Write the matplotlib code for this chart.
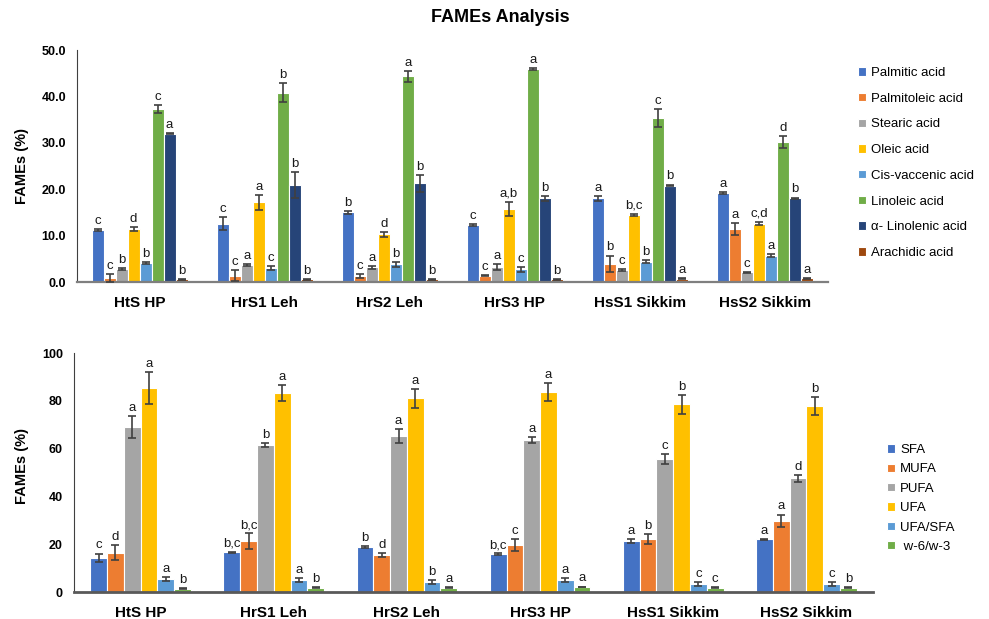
import numpy as np
import matplotlib
matplotlib.use('Agg')
import matplotlib.pyplot as plt

plt.rcParams['font.family'] = ['Liberation Sans', 'DejaVu Sans']

## sample groups
samples = ['HtS HP', 'HrS1 Leh', 'HrS2 Leh', 'HrS3 HP', 'HsS1 Sikkim', 'HsS2 Sikkim']

## top chart - individual fatty acids (%), one list per acid, values per sample
acids = ['Palmitic acid', 'Palmitoleic acid', 'Stearic acid', 'Oleic acid',
         'Cis-vaccenic acid', 'Linoleic acid', 'α- Linolenic acid', 'Arachidic acid']
palmitic = [11.2, 12.6, 15.0, 12.3, 18.0, 19.1]
palmitoleic = [0.9, 1.4, 1.3, 1.4, 3.9, 11.4]
stearic = [2.8, 3.7, 3.2, 3.2, 2.6, 2.1]
oleic = [11.4, 17.2, 10.3, 15.8, 14.5, 12.6]
cis_vaccenic = [4.1, 3.0, 3.8, 2.7, 4.4, 5.7]
linoleic = [37.3, 40.8, 44.3, 46.0, 35.3, 30.2]
linolenic = [32.0, 21.0, 21.3, 18.0, 20.8, 18.0]
arachidic = [0.6, 0.6, 0.6, 0.6, 0.7, 0.8]

palmitic_err = [0.3, 1.4, 0.3, 0.2, 0.5, 0.2]
palmitoleic_err = [0.9, 1.1, 0.5, 0.2, 1.8, 1.3]
stearic_err = [0.2, 0.2, 0.3, 0.6, 0.2, 0.1]
oleic_err = [0.4, 1.6, 0.5, 1.5, 0.2, 0.4]
cis_vaccenic_err = [0.3, 0.5, 0.5, 0.6, 0.3, 0.4]
linoleic_err = [0.9, 2.1, 1.2, 0.2, 1.9, 1.3]
linolenic_err = [0.2, 2.8, 1.8, 0.5, 0.2, 0.2]
arachidic_err = [0.1, 0.1, 0.1, 0.1, 0.1, 0.1]

palmitic_sig = ['c', 'c', 'b', 'c', 'a', 'a']
palmitoleic_sig = ['c', 'c', 'c', 'c', 'b', 'a']
stearic_sig = ['b', 'a', 'a', 'a', 'c', 'c']
oleic_sig = ['d', 'a', 'd', 'a,b', 'b,c', 'c,d']
cis_vaccenic_sig = ['b', 'c', 'b', 'c', 'b', 'a']
linoleic_sig = ['c', 'b', 'a', 'a', 'c', 'd']
linolenic_sig = ['a', 'b', 'b', 'b', 'b', 'b']
arachidic_sig = ['b', 'b', 'b', 'b', 'a', 'a']

## bottom chart - fatty acid classes
classes = ['SFA', 'MUFA', 'PUFA', 'UFA', 'UFA/SFA', ' w-6/w-3']
sfa = [14.4, 16.6, 18.7, 15.9, 21.3, 22.0]
mufa = [16.5, 21.3, 15.4, 19.6, 22.2, 29.8]
pufa = [69.0, 61.5, 65.2, 63.5, 55.7, 47.6]
ufa = [85.3, 83.2, 81.1, 83.8, 78.5, 77.9]
ufa_sfa = [5.3, 4.9, 4.2, 4.9, 3.2, 3.2]
w6_w3 = [1.3, 1.7, 1.7, 2.1, 1.7, 1.7]

sfa_err = [1.7, 0.2, 0.4, 0.3, 0.7, 0.2]
mufa_err = [3.0, 3.3, 0.9, 2.5, 2.1, 2.6]
pufa_err = [4.7, 0.7, 3.0, 1.2, 2.1, 1.4]
ufa_err = [6.6, 3.4, 4.0, 3.7, 4.1, 3.8]
ufa_sfa_err = [0.9, 0.8, 0.8, 0.8, 0.8, 0.8]
w6_w3_err = [0.2, 0.2, 0.2, 0.2, 0.2, 0.2]

sfa_sig = ['c', 'b,c', 'b', 'b,c', 'a', 'a']
mufa_sig = ['d', 'b,c', 'd', 'c', 'b', 'a']
pufa_sig = ['a', 'b', 'a', 'a', 'c', 'd']
ufa_sig = ['a', 'a', 'a', 'a', 'b', 'b']
ufa_sfa_sig = ['a', 'a', 'b', 'a', 'c', 'c']
w6_w3_sig = ['b', 'b', 'a', 'a', 'c', 'b']

top_vals = [palmitic, palmitoleic, stearic, oleic, cis_vaccenic, linoleic, linolenic, arachidic]
top_errs = [palmitic_err, palmitoleic_err, stearic_err, oleic_err, cis_vaccenic_err,
            linoleic_err, linolenic_err, arachidic_err]
top_sigs = [palmitic_sig, palmitoleic_sig, stearic_sig, oleic_sig, cis_vaccenic_sig,
            linoleic_sig, linolenic_sig, arachidic_sig]
top_colors = ['#4472C4', '#ED7D31', '#A5A5A5', '#FFC000', '#5B9BD5', '#70AD47', '#264478', '#9E480E']

bot_vals = [sfa, mufa, pufa, ufa, ufa_sfa, w6_w3]
bot_errs = [sfa_err, mufa_err, pufa_err, ufa_err, ufa_sfa_err, w6_w3_err]
bot_sigs = [sfa_sig, mufa_sig, pufa_sig, ufa_sig, ufa_sfa_sig, w6_w3_sig]
bot_colors = ['#4472C4', '#ED7D31', '#A5A5A5', '#FFC000', '#5B9BD5', '#70AD47']


def grouped_bars(ax, vals, errs, sigs, colors, labels, slot):
    x = np.arange(len(samples))
    n = len(vals)
    handles = []
    for i in range(n):
        pos = x + (i - (n - 1) / 2) * slot
        b = ax.bar(pos, vals[i], width=slot, color=colors[i], edgecolor='white',
                   linewidth=0.8, label=labels[i], zorder=2)
        handles.append(b)
        ax.errorbar(pos, vals[i], yerr=errs[i], fmt='none', ecolor='#404040',
                    elinewidth=1.2, capsize=3, capthick=1.2, zorder=3)
        for j in range(len(samples)):
            ax.annotate(sigs[i][j], (pos[j], vals[i][j] + errs[i][j]),
                        xytext=(0, 1.5), textcoords='offset points',
                        ha='center', va='bottom', fontsize=9.5, color='#1a1a1a')
    ax.set_xticks(x)
    ax.set_xticklabels(samples, fontsize=11, fontweight='bold')
    ax.set_xlim(-0.5, len(samples) - 0.5)
    ax.tick_params(length=0)
    ax.tick_params(axis='x', pad=10)
    ax.tick_params(axis='y', pad=8)
    for s in ['top', 'right']:
        ax.spines[s].set_visible(False)
    ax.spines['left'].set_color('#404040')
    ax.spines['bottom'].set_color('#7f7f7f')
    ax.spines['bottom'].set_linewidth(1.6)
    return handles


fig = plt.figure(figsize=(9.89, 6.19), dpi=100)

## top axes
ax1 = fig.add_axes([0.0779, 0.5444, 0.7590, 0.3748])
h1 = grouped_bars(ax1, top_vals, top_errs, top_sigs, top_colors, acids, 0.096)
ax1.set_ylim(0, 50)
ax1.set_yticks(np.arange(0, 51, 10))
ax1.set_yticklabels(['%.1f' % v for v in np.arange(0, 51, 10)], fontsize=9, fontweight='bold')

## bottom axes
ax2 = fig.add_axes([0.0748, 0.0436, 0.8079, 0.3861])
h2 = grouped_bars(ax2, bot_vals, bot_errs, bot_sigs, bot_colors, classes, 0.126)
ax2.set_ylim(0, 100)
ax2.set_yticks(np.arange(0, 101, 20))
ax2.set_yticklabels([str(v) for v in range(0, 101, 20)], fontsize=9, fontweight='bold')
ax2.spines['bottom'].set_color('#595959')
ax2.spines['bottom'].set_linewidth(2)

fig.text(0.506, 0.972, 'FAMEs Analysis', ha='center', va='center', fontsize=13, fontweight='bold')
fig.text(0.022, 0.732, 'FAMEs (%)', rotation=90, ha='center', va='center', fontsize=10.5, fontweight='bold')
fig.text(0.022, 0.247, 'FAMEs (%)', rotation=90, ha='center', va='center', fontsize=10.5, fontweight='bold')

fig.legend(handles=h1, labels=acids, loc='upper left', bbox_to_anchor=(858 / 989, 1 - 67 / 619),
           frameon=False, fontsize=9.5, handlelength=0.6, handleheight=0.6, handletextpad=0.4,
           labelspacing=1.04, borderpad=0, borderaxespad=0)
fig.legend(handles=h2, labels=classes, loc='upper left', bbox_to_anchor=(887 / 989, 1 - 444 / 619),
           frameon=False, fontsize=9.5, handlelength=0.6, handleheight=0.6, handletextpad=0.4,
           labelspacing=0.56, borderpad=0, borderaxespad=0)

fig.savefig('out.png', dpi=100)
